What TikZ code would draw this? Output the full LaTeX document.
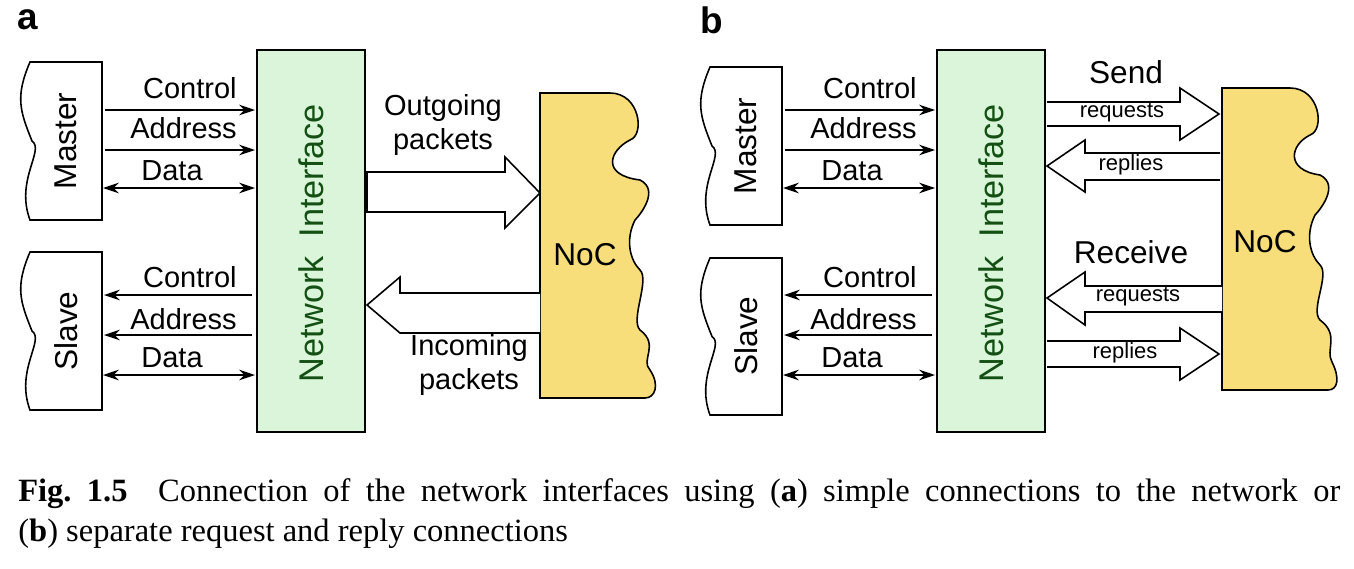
\documentclass[tikz,border=0pt]{standalone}
\usepackage{fontspec}
\setmainfont{Liberation Sans}
\newfontfamily\capfont{Liberation Serif}
\usetikzlibrary{arrows.meta}
\definecolor{nigreen}{RGB}{218,245,218}
\definecolor{nocyellow}{RGB}{248,222,122}
\definecolor{nitext}{RGB}{20,80,20}
\begin{document}
\begin{tikzpicture}[x=0.02cm,y=-0.02cm,
  lbl/.style={font=\fontsize{16.5}{19}\selectfont,inner sep=0pt},
  big/.style={font=\fontsize{18}{20}\selectfont,inner sep=0pt},
  small/.style={font=\fontsize{12.5}{14}\selectfont,inner sep=0pt},
  sig/.style={-{Stealth[length=9pt,width=6pt]},line width=0.9pt},
  sigb/.style={{Stealth[length=9pt,width=6pt]}-{Stealth[length=9pt,width=6pt]},line width=0.9pt},
  box/.style={draw,line width=0.9pt},
  fat/.style={draw,fill=white,line width=0.9pt}]
\useasboundingbox (0,0) rectangle (1354,568);
\node[font=\bfseries\fontsize{21}{22}\selectfont] (la) at (28,20) {a};
\node[font=\bfseries\fontsize{21}{22}\selectfont] (lb) at (712,20) {b};

\newcommand{\wavybox}[4]{% x0, top, right, bottom
  \draw[box,fill=white] (#1+10,#2) -- (#3,#2) -- (#3,#4) -- (#1+10,#4)
    .. controls (#1-5,#4-40) and (#1+25,#4-70) .. (#1+12,{(#2+#4)/2})
    .. controls (#1,{(#2+#4)/2-30}) and (#1-5,#2+35) .. (#1+10,#2) -- cycle;}

% ================= PANEL A =================
\wavybox{20}{62}{102}{220}
\node[big,rotate=90] (ma) at (66,141) {Master};
\wavybox{20}{252}{102}{410}
\node[big,rotate=90] (sa) at (66,331) {Slave};
\node[box,fill=nigreen,minimum width=108*0.02cm,minimum height=382*0.02cm,inner sep=0pt] (nia) at (311,241) {};
\node[big,rotate=90,text=nitext,font=\fontsize{19.5}{21}\selectfont] at (311,243) {Network\ \ Interface};

\draw[sig] (105,110) -- (255,110); \node[lbl,anchor=south east] at (237,99) {Control};
\draw[sig] (105,150) -- (255,150); \node[lbl,anchor=south east] at (237,139) {Address};
\draw[sigb] (103,188) -- (255,188); \node[lbl,anchor=south east] at (203,181) {Data};
\draw[sig] (252,295) -- (104,295); \node[lbl,anchor=south east] at (237,288) {Control};
\draw[sig] (252,335) -- (104,335); \node[lbl,anchor=south east] at (237,330) {Address};
\draw[sigb] (103,375) -- (255,375); \node[lbl,anchor=south east] at (203,368) {Data};

\draw[box,fill=nocyellow] (540,93) -- (610,93)
  .. controls (640,93) and (645,135) .. (630,140)
  .. controls (610,150) and (600,175) .. (640,180)
  .. controls (660,190) and (640,215) .. (635,220)
  .. controls (625,240) and (630,260) .. (640,270)
  .. controls (650,280) and (630,320) .. (640,330)
  .. controls (660,345) and (640,360) .. (650,370)
  .. controls (660,385) and (655,398) .. (645,398) -- (540,398) -- cycle;
\node[big] (noca) at (585,255) {NoC};

\draw[fat] (367,172) -- (505,172) -- (505,157) -- (540,193) -- (505,228) -- (505,212) -- (367,212) -- cycle;
\draw[fat] (540,293) -- (400,293) -- (400,277) -- (367,305) -- (400,333) -- (540,333);
\node[lbl,align=center] at (443,125) {Outgoing\\packets};
\node[lbl,align=center] at (469,365) {Incoming\\packets};

% ================= PANEL B =================
\wavybox{700}{67}{782}{225}
\node[big,rotate=90] (mb) at (746,146) {Master};
\wavybox{700}{258}{782}{415}
\node[big,rotate=90] (sb) at (746,336) {Slave};
\node[box,fill=nigreen,minimum width=108*0.02cm,minimum height=382*0.02cm,inner sep=0pt] (nib) at (991,241) {};
\node[big,rotate=90,text=nitext,font=\fontsize{19.5}{21}\selectfont] at (991,243) {Network\ \ Interface};

\draw[sig] (785,110) -- (935,110); \node[lbl,anchor=south east] at (917,99) {Control};
\draw[sig] (785,150) -- (935,150); \node[lbl,anchor=south east] at (917,139) {Address};
\draw[sigb] (783,188) -- (935,188); \node[lbl,anchor=south east] at (883,181) {Data};
\draw[sig] (932,295) -- (784,295); \node[lbl,anchor=south east] at (917,288) {Control};
\draw[sig] (932,335) -- (784,335); \node[lbl,anchor=south east] at (917,330) {Address};
\draw[sigb] (783,375) -- (935,375); \node[lbl,anchor=south east] at (883,368) {Data};

\draw[box,fill=nocyellow] (1222,88) -- (1290,88)
  .. controls (1320,88) and (1325,130) .. (1310,135)
  .. controls (1290,145) and (1285,170) .. (1320,175)
  .. controls (1340,185) and (1320,210) .. (1315,215)
  .. controls (1305,235) and (1310,255) .. (1320,265)
  .. controls (1330,275) and (1310,310) .. (1320,320)
  .. controls (1340,335) and (1325,350) .. (1332,362)
  .. controls (1340,378) and (1338,390) .. (1328,390) -- (1222,390) -- cycle;
\node[big] (nocb) at (1265,242) {NoC};

\draw[fat] (1047,102) -- (1180,102) -- (1180,88) -- (1219,114) -- (1180,140) -- (1180,126) -- (1047,126);
\draw[fat] (1220,153) -- (1085,153) -- (1085,140) -- (1047,166) -- (1085,192) -- (1085,180) -- (1220,180);
\draw[fat] (1222,286) -- (1085,286) -- (1085,272) -- (1047,298) -- (1085,325) -- (1085,312) -- (1222,312);
\draw[fat] (1047,341) -- (1180,341) -- (1180,328) -- (1219,354) -- (1180,380) -- (1180,367) -- (1047,367);
\node[small] at (1122,113) {requests};
\node[small] at (1131,165) {replies};
\node[small] at (1138,297) {requests};
\node[small] at (1125,353) {replies};
\node[big] at (1126,72) {Send};
\node[big] at (1131,252) {Receive};

% ================= CAPTION =================
\node[anchor=north west,inner sep=0pt,text width=1322*0.02cm,align=justify,
  font=\capfont\fontsize{18.5}{23}\selectfont] (cap) at (18,478)
  {\textbf{Fig.~1.5}\ \ Connection of the network interfaces using (\textbf{a}) simple connections to the network or\linebreak (\textbf{b}) separate request and reply connections};
\end{tikzpicture}
\end{document}
